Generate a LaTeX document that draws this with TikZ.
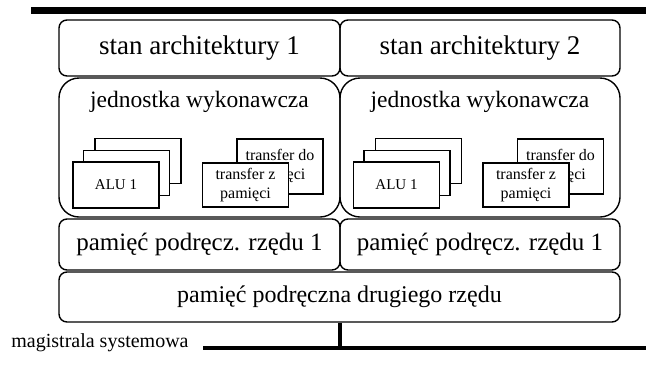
\documentclass[tikz,border=0pt]{standalone}
\usepackage{fontspec}
\setmainfont{Liberation Serif}
\begin{document}
\begin{tikzpicture}[x=1pt,y=-1pt,
  rbox/.style={draw, line width=1.4pt, rounded corners=8pt, inner sep=0pt},
  bigbox/.style={draw, line width=1.4pt, rounded corners=20pt, inner sep=0pt},
  sq/.style={draw, line width=1.3pt, fill=white, inner sep=0pt, minimum width=86pt, align=center, font=\fontsize{16}{19}\selectfont},
  big/.style={font=\fontsize{27}{30}\selectfont},
  mid/.style={font=\fontsize{23.5}{28}\selectfont},
  bus/.style={line width=4pt}]
\useasboundingbox (0,0) rectangle (646,365);
\node[fill=black, inner sep=0pt, minimum width=615pt, minimum height=7pt] (topbar) at (338.5,10.5) {};
% top row
\node[rbox, big, minimum width=281pt, minimum height=56pt] (s1) at (199.5,48) {stan architektury 1};
\node[rbox, big, minimum width=280pt, minimum height=56pt] (s2) at (480,48) {stan architektury 2};
% execution units
\node[bigbox, minimum width=281pt, minimum height=139pt] (j1) at (199.5,147.5) {};
\node[bigbox, minimum width=280pt, minimum height=139pt] (j2) at (480,147.5) {};
\node[mid] (jt1) at (199.5,102) {jednostka wykonawcza};
\node[mid] (jt2) at (480,102) {jednostka wykonawcza};
% ALU stacks and transfer units
\foreach \dx/\n in {0/a,280.5/b}{
  \node[sq, minimum height=45pt] (alu3\n) at (138+\dx,161) {};
  \node[sq, minimum height=45pt] (alu2\n) at (126.5+\dx,173) {};
  \node[sq, minimum height=46pt, font=\fontsize{15}{18}\selectfont] (alu1\n) at (116+\dx,185) {ALU 1};
  \node[sq, minimum height=55pt] (tdo\n) at (280+\dx,166.5) {transfer do\\pamięci};
  \node[sq, minimum height=44pt] (tz\n) at (245.5+\dx,185) {transfer z\\pamięci};
}
% L1 caches
\node[rbox, font=\fontsize{25}{29}\selectfont, minimum width=281pt, minimum height=51pt] (l1a) at (199.5,244.5) {pamięć podręcz. rzędu 1};
\node[rbox, font=\fontsize{25}{29}\selectfont, minimum width=280pt, minimum height=51pt] (l1b) at (480,244.5) {pamięć podręcz. rzędu 1};
% L2 cache
\node[rbox, font=\fontsize{24}{28}\selectfont, minimum width=561pt, minimum height=50pt] (l2) at (339.5,297) {pamięć podręczna drugiego rzędu};
% system bus
\coordinate (busL) at (203,348);
\coordinate (busR) at (646,348);
\draw[bus] (busL) -- (busR);
\draw[bus] (l2.south) -- (l2.south |- busL);
\node[font=\fontsize{20}{24}\selectfont] (mag) at (100,343) {magistrala systemowa};
\end{tikzpicture}
\end{document}
